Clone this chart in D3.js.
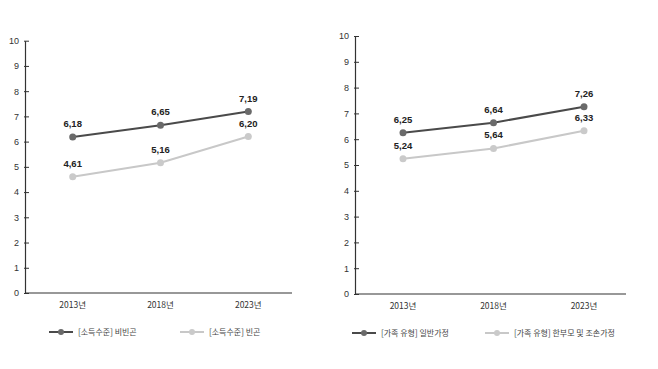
<!DOCTYPE html>
<html><head><meta charset="utf-8">
<script src="https://cdn.jsdelivr.net/npm/d3@7"></script>
<style>body{margin:0;background:#fff;} svg{display:block;font-family:"Noto Sans CJK KR","Noto Sans",sans-serif;}</style>
</head><body><svg id="c" width="658" height="369"></svg>
<script>
const years = ["2013년","2018년","2023년"];
const yTicks = [0,1,2,3,4,5,6,7,8,9,10];
const leftNames = ["[소득수준] 비빈곤","[소득수준] 빈곤"];
const leftDark = [6.18,6.65,7.19];
const leftLight = [4.61,5.16,6.20];
const rightNames = ["[가족 유형] 일반가정","[가족 유형] 한부모 및 조손가정"];
const rightDark = [6.25,6.64,7.26];
const rightLight = [5.24,5.64,6.33];

const svg = d3.select("#c");
const dark = {line:"#4a4a4a", dot:"#6a6a6a"};
const light = {line:"#c8c8c8", dot:"#cacaca"};

function panel(cfg){
  const g = svg.append("g");
  const x = d3.scalePoint().domain(years).range([cfg.x0, cfg.x1]);
  const y = d3.scaleLinear().domain([0,10]).range([cfg.yb, cfg.yt]);
  // y axis
  const ya = g.append("g").attr("transform",`translate(${cfg.ax},0)`)
    .call(d3.axisLeft(y).tickValues(yTicks).tickSize(0).tickPadding(6));
  ya.select(".domain").attr("stroke","#333").attr("stroke-width",1.2);
  ya.selectAll("text").attr("font-size",9).attr("fill","#333").attr("font-family","Liberation Sans, Arial, sans-serif");
  ya.selectAll(".tick").append("line").attr("x1",-1).attr("x2",4).attr("stroke","#333");
  // x axis
  g.append("line").attr("x1",cfg.ax).attr("x2",cfg.xe).attr("y1",cfg.yb).attr("y2",cfg.yb).attr("stroke","#333").attr("stroke-width",1.2);
  g.selectAll(".xl").data(years).join("text").attr("x",d=>x(d)).attr("y",cfg.yb+15)
    .attr("text-anchor","middle").attr("font-size",8.5).attr("fill","#333").text(d=>d);
  const series = [{v:cfg.light,c:light},{v:cfg.dark,c:dark}];
  const line = d3.line().x((d,i)=>x(years[i])).y(d=>y(d));
  series.forEach(s=>{
    g.append("path").datum(s.v).attr("d",line).attr("fill","none").attr("stroke",s.c.line).attr("stroke-width",2);
    g.selectAll(null).data(s.v).join("circle").attr("cx",(d,i)=>x(years[i])).attr("cy",d=>y(d)).attr("r",3.5).attr("fill",s.c.dot);
    g.selectAll(null).data(s.v).join("text").attr("x",(d,i)=>x(years[i])).attr("y",d=>y(d)-10)
      .attr("text-anchor","middle").attr("font-size",9.5).attr("font-weight","bold").attr("fill","#222")
      .attr("font-family","Liberation Sans, Arial, sans-serif")
      .text(d=>d.toFixed(2).replace(".",","));
  });
  // legend
  const lg = [{c:dark,n:cfg.names[0],x:cfg.lg[0]},{c:light,n:cfg.names[1],x:cfg.lg[1]}];
  lg.forEach(l=>{
    g.append("line").attr("x1",l.x).attr("x2",l.x+24).attr("y1",cfg.ly).attr("y2",cfg.ly).attr("stroke",l.c.line).attr("stroke-width",2);
    g.append("circle").attr("cx",l.x+12).attr("cy",cfg.ly).attr("r",3).attr("fill",l.c.dot);
    g.append("text").attr("x",l.x+29).attr("y",cfg.ly+3).attr("font-size",8).attr("fill","#444").text(l.n);
  });
}
panel({ax:25,xe:292,x0:72.7,x1:248.3,yb:293,yt:40.7,dark:leftDark,light:leftLight,names:leftNames,lg:[49,180],ly:332});
panel({ax:355,xe:626,x0:403,x1:584,yb:294,yt:36,dark:rightDark,light:rightLight,names:rightNames,lg:[352,485],ly:333});
</script></body></html>
